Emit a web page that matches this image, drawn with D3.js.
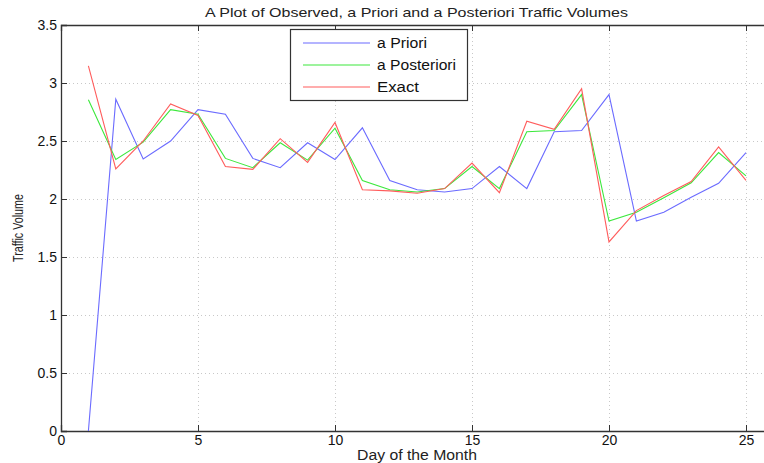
<!DOCTYPE html>
<html><head><meta charset="utf-8">
<script src="https://cdn.jsdelivr.net/npm/d3@7"></script>
<style>
body{margin:0;background:#fff;}
svg{display:block;font-family:"Liberation Sans",Arial,sans-serif;}
</style></head><body>
<svg id="chart" width="764" height="463"></svg>
<script>
const days = d3.range(1, 26);
const aPriori = [0, 2.86, 2.345, 2.50, 2.77, 2.73, 2.35, 2.27, 2.485, 2.34, 2.614, 2.16, 2.08, 2.06, 2.09, 2.28, 2.09, 2.58, 2.59, 2.90, 1.81, 1.886, 2.015, 2.135, 2.40];
const aPosteriori = [2.855, 2.34, 2.49, 2.77, 2.73, 2.35, 2.27, 2.485, 2.335, 2.61, 2.16, 2.08, 2.06, 2.09, 2.28, 2.09, 2.58, 2.59, 2.90, 1.81, 1.886, 2.01, 2.14, 2.40, 2.20];
const exact = [3.147, 2.26, 2.50, 2.82, 2.72, 2.28, 2.255, 2.52, 2.316, 2.66, 2.08, 2.07, 2.05, 2.09, 2.31, 2.055, 2.67, 2.60, 2.95, 1.63, 1.90, 2.03, 2.15, 2.45, 2.16];
const xTicks = [0, 5, 10, 15, 20, 25];
const yTicks = [0, 0.5, 1, 1.5, 2, 2.5, 3, 3.5];
const seriesNames = ["a Priori", "a Posteriori", "Exact"];
const seriesColors = ["#6b6bff", "#3ce83c", "#ff5c5c"];
const legendTextWidths = [50, 79, 42];
const titleText = "A Plot of Observed, a Priori and a Posteriori Traffic Volumes";
const xLabel = "Day of the Month";
const yLabel = "Traffic Volume";

const svg = d3.select("#chart");
const pLeft = 61, pTop = 25, pBottom = 431, pRight = 61 + 26 * 27.4;
const x = d3.scaleLinear().domain([0, 26]).range([pLeft, pRight]);
const y = d3.scaleLinear().domain([0, 3.5]).range([pBottom, pTop]);

// grid
const grid = svg.append("g").attr("stroke", "#c8c8c8").attr("stroke-width", 1).attr("stroke-dasharray", "1,3");
grid.selectAll(".gx").data(xTicks.filter(d => d > 0)).join("line")
  .attr("x1", d => Math.round(x(d)) + 0.5).attr("x2", d => Math.round(x(d)) + 0.5)
  .attr("y1", pTop).attr("y2", pBottom);
grid.selectAll(".gy").data(yTicks.filter(d => d > 0 && d < 3.5)).join("line")
  .attr("y1", d => Math.round(y(d)) + 0.5).attr("y2", d => Math.round(y(d)) + 0.5)
  .attr("x1", pLeft).attr("x2", pRight);

// axes (inward ticks)
const fmt = d => String(d);
const xAxis = d3.axisBottom(x).tickValues(xTicks).tickSize(-6).tickPadding(4).tickFormat(fmt);
const yAxis = d3.axisLeft(y).tickValues(yTicks).tickSize(-6).tickPadding(4).tickFormat(fmt);
const xTop = d3.axisTop(x).tickValues(xTicks).tickSize(-6).tickFormat("");

const gx = svg.append("g").attr("transform", `translate(0,${pBottom})`).call(xAxis);
const gy = svg.append("g").attr("transform", `translate(${pLeft},0)`).call(yAxis);
const gt = svg.append("g").attr("transform", `translate(0,${pTop})`).call(xTop);
[gx, gy, gt].forEach(g => {
  g.select(".domain").attr("stroke", "#333").attr("stroke-width", 1.3);
  g.selectAll(".tick line").attr("stroke", "#333");
  g.selectAll(".tick text").attr("fill", "#111").attr("font-size", 14).attr("font-family", "Liberation Sans, Arial, sans-serif");
});

// lines
const allSeries = [aPriori, aPosteriori, exact];
const line = d3.line().x((d, i) => x(days[i])).y(d => y(d));
svg.append("g").selectAll("path").data(allSeries).join("path")
  .attr("d", d => line(d))
  .attr("fill", "none")
  .attr("stroke", (d, i) => seriesColors[i])
  .attr("stroke-width", 1.1);

// title and labels
svg.append("text").attr("x", 416.5).attr("y", 17).attr("text-anchor", "middle")
  .attr("font-size", 13.5).attr("fill", "#222")
  .attr("textLength", 423).attr("lengthAdjust", "spacingAndGlyphs").text(titleText);
svg.append("text").attr("x", 417).attr("y", 460).attr("text-anchor", "middle")
  .attr("font-size", 14).attr("fill", "#222")
  .attr("textLength", 120).attr("lengthAdjust", "spacingAndGlyphs").text(xLabel);
svg.append("text").attr("transform", "translate(23,228) rotate(-90)").attr("text-anchor", "middle")
  .attr("font-size", 14.5).attr("fill", "#222")
  .attr("textLength", 68).attr("lengthAdjust", "spacingAndGlyphs").text(yLabel);

// legend
const lg = svg.append("g");
lg.append("rect").attr("x", 290.5).attr("y", 29.5).attr("width", 177).attr("height", 71)
  .attr("fill", "#fff").attr("stroke", "#333").attr("stroke-width", 1.2);
const rowsY = [43, 65, 87];
seriesNames.forEach((name, i) => {
  lg.append("line").attr("x1", 303).attr("x2", 370).attr("y1", rowsY[i]).attr("y2", rowsY[i])
    .attr("stroke", seriesColors[i]).attr("stroke-width", 1.1);
  lg.append("text").attr("x", 377).attr("y", rowsY[i] + 5).attr("font-size", 14)
    .attr("fill", "#111").attr("textLength", legendTextWidths[i])
    .attr("lengthAdjust", "spacingAndGlyphs").text(name);
});
</script>
</body></html>
